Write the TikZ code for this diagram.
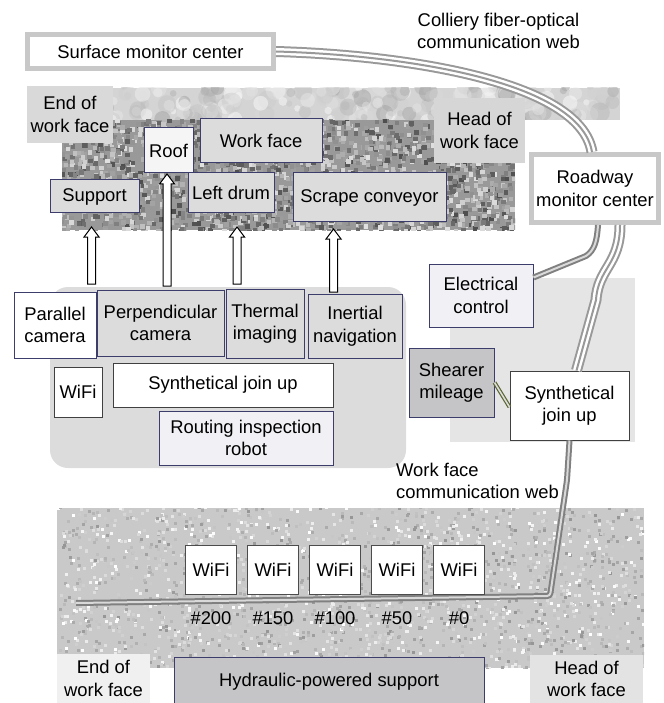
\documentclass[tikz,border=0pt]{standalone}
\usepackage{fontspec}
\setmainfont{Liberation Sans}
\usetikzlibrary{calc}
\definecolor{navy}{HTML}{3D3D6B}
\definecolor{boxgray}{HTML}{DCDCDC}
\definecolor{pale}{HTML}{F1F1F5}
\definecolor{midgray}{HTML}{C5C5C7}
\definecolor{cablegray}{HTML}{999999}
\definecolor{framegray}{HTML}{C8C8C8}
\definecolor{olivewire}{HTML}{5A6632}
\tikzset{box/.style={draw=navy,line width=1pt,fill=boxgray,inner sep=1pt,align=center},
  plainbox/.style={box,draw=black!75,fill=white},
  monitor/.style={draw=framegray,line width=5pt,fill=white,inner sep=1pt,align=center},
  tag/.style={fill=#1,inner sep=1pt,align=center},
  fiber/.style={draw=cablegray,line width=11pt,postaction={draw=white,line width=7pt},postaction={draw=cablegray,line width=2pt}},
  fiberpair/.style={draw=black!50,line width=6pt,postaction={draw=white!85!black,line width=2pt}},
  hollow/.style={draw=black,line width=1pt,fill=white}}
\newcommand\blockup[2]{\draw[hollow] let \p1=(#1),\p2=(#2) in
  (\x1-4pt,\y1) -- (\x1-4pt,\y2-10pt) -- (\x1-7.5pt,\y2-10pt) -- (\x1,\y2) -- (\x1+7.5pt,\y2-10pt) -- (\x1+4pt,\y2-10pt) -- (\x1+4pt,\y1) -- cycle;}

\begin{document}
\begin{tikzpicture}[x=1pt,y=-1pt,font=\fontsize{18.4}{22.5}\selectfont]
  \useasboundingbox (0,0) rectangle (663,703);
  \pgfmathsetseed{11}
  % textures
  \begin{scope}
    \clip (27,88) rectangle (620,120);
    \fill[black!17] (27,88) rectangle (620,120);
    \foreach \i in {1,...,260}{
      \pgfmathsetmacro\rx{27+rnd*593}
      \pgfmathsetmacro\ry{86+rnd*36}
      \pgfmathsetmacro\rr{3+rnd*7}
      \pgfmathsetmacro\rg{int(rnd*40)}
      \fill[black!\rg,opacity=.45] (\rx,\ry) circle (\rr pt);
    }
  \end{scope}
  \begin{scope}
    \clip (62,120) rectangle (515,230);
    \fill[black!40] (62,120) rectangle (515,230);
    \foreach \i in {1,...,2200}{
      \pgfmathsetmacro\rx{60+rnd*455}
      \pgfmathsetmacro\ry{118+rnd*112}
      \pgfmathsetmacro\rg{int(12+rnd*58)}
      \fill[black!\rg] (\rx,\ry) rectangle ++(4.5,4.5);
    }
  \end{scope}
  \begin{scope}
    \clip (57,508) rectangle (644,668);
    \fill[black!21] (57,508) rectangle (644,668);
    \foreach \i in {1,...,2200}{
      \pgfmathsetmacro\rx{57+rnd*587}
      \pgfmathsetmacro\ry{506+rnd*162}
      \pgfmathsetmacro\rg{int(rnd*42)}
      \fill[black!\rg] (\rx,\ry) rectangle ++(3,3);
    }
  \end{scope}
  \fill[boxgray,rounded corners=18pt] (50,287) rectangle (406,468);
  \fill[black!10] (450,278) rectangle (635,442);

  \node[monitor,minimum width=246,minimum height=34] (smc) at (150.5,51.5) {Surface monitor center};
  \node[monitor,minimum width=127,minimum height=68] (rmc) at (595,188.5) {Roadway\\monitor center};
  \node[align=center,inner sep=0pt] (colweb) at (498.5,31) {Colliery fiber-optical\\communication web};

  \node[tag=black!15,minimum width=86,minimum height=57] (endtop) at (70,114.5) {End of\\work face};
  \node[tag=black!16,minimum width=91,minimum height=65] (headtop) at (479.5,130.5) {Head of\\work face};
  \node[box,fill=white!96!black,minimum width=49,minimum height=45] (roof) at (168.5,150.5) {Roof};
  \node[box,minimum width=122,minimum height=44] (workface) at (261,141) {Work face};
  \node[box,minimum width=89,minimum height=33] (support) at (94.5,196.5) {Support};
  \node[box,minimum width=86,minimum height=40] (leftdrum) at (231,193) {Left drum};
  \node[box,minimum width=153,minimum height=49] (scrape) at (369.5,197.5) {Scrape conveyor};

  \node[box,fill=white,minimum width=82,minimum height=66] (pcam) at (55,325) {Parallel\\camera};
  \node[box,minimum width=127,minimum height=66] (vcam) at (160.5,323) {Perpendicular\\camera};
  \node[box,minimum width=78,minimum height=69] (thermal) at (265,323.5) {Thermal\\imaging};
  \node[box,minimum width=94,minimum height=64] (inertial) at (355,326) {Inertial\\navigation};
  \node[plainbox,minimum width=48,minimum height=50] (rwifi) at (78,392) {WiFi};
  \node[plainbox,minimum width=220,minimum height=44] (rjoin) at (223,385) {Synthetical join up};
  \node[box,fill=pale,minimum width=174,minimum height=54] (robot) at (246,438) {Routing inspection\\robot};

  \coordinate (b1) at (91.5,284);  \coordinate (t1) at (91.5,227);
  \coordinate (b2) at (167,286);   \coordinate (t2) at (167,174);
  \coordinate (b3) at (237,284);   \coordinate (t3) at (237,227);
  \coordinate (b4) at (333.5,292); \coordinate (t4) at (333.5,229);
  \blockup{b1}{t1}
  \blockup{b2}{t2}
  \blockup{b3}{t3}
  \blockup{b4}{t4}

  \node[box,fill=pale,minimum width=104,minimum height=63] (elec) at (481,295.5) {Electrical\\control};
  \node[box,fill=midgray,minimum width=85,minimum height=69] (shearer) at (451.5,382.5) {Shearer\\mileage};
  \node[plainbox,minimum width=119,minimum height=69] (sjoin) at (569.5,405.5) {Synthetical\\join up};
  \node[align=left,inner sep=0pt,anchor=west] (wfweb) at (396,481) {Work face\\communication web};

  \coordinate (fibend) at (76,603);
  \draw[fiber] (smc.east) .. controls (400,55) and (580,80) .. ([xshift=-3pt]rmc.north);
  \draw[fiberpair] ([yshift=18pt]elec.east) -- (586,256) .. controls (595,250) and (597,240) .. ([xshift=3pt]rmc.south);
  \draw[fiber] ([xshift=25pt]rmc.south) .. controls (620,265) and (598,268) .. (596,300) -- ([xshift=7pt]sjoin.north);
  \draw[fiberpair,rounded corners=3pt] (sjoin.south) -- (567,480) -- (550,596) -- (fibend);
  \draw[olivewire,line width=1.2pt,double=boxgray,double distance=1.6pt] (shearer.east) -- ([yshift=-1.5pt]sjoin.west);

  \foreach \lab [count=\k from 0] in {200,150,100,50,0}{
    \node[plainbox,draw=black!70,minimum width=51,minimum height=49] (wifi\k) at ({211+62*\k},569.5) {WiFi};
    \node[inner sep=1pt] (num\k) at ({211+62*\k},618) {\#\lab};
  }
  \node[tag=black!6,minimum width=93,minimum height=49] (endbot) at (103.5,678.5) {End of\\work face};
  \node[tag=black!11,minimum width=113,minimum height=48] (headbot) at (586.5,679) {Head of\\work face};
  \node[box,fill=midgray,minimum width=310,minimum height=50] (hyd) at (329,682) {Hydraulic-powered support};
\end{tikzpicture}
\end{document}
